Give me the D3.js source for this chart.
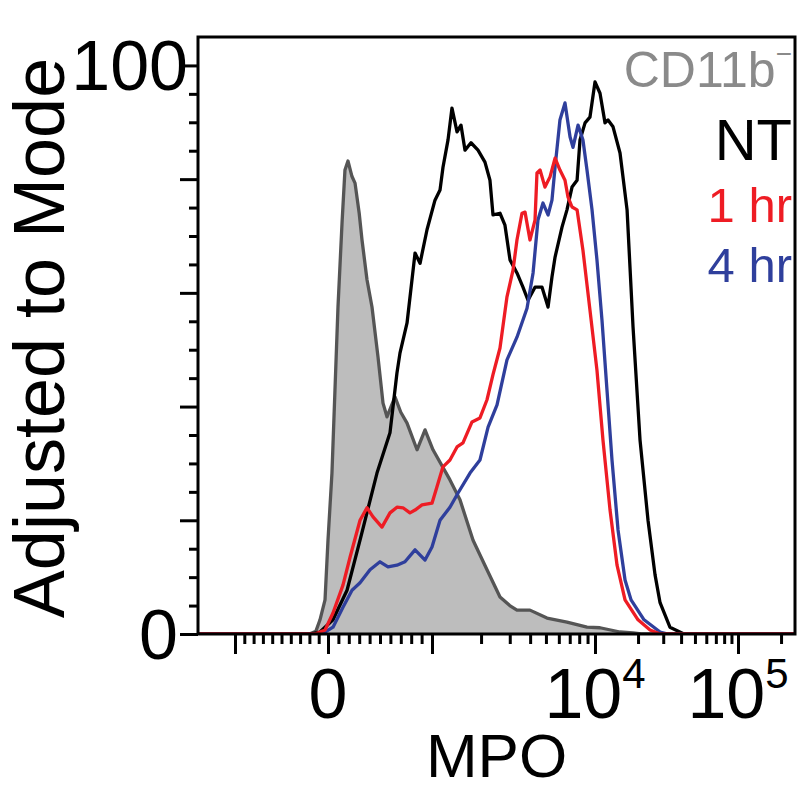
<!DOCTYPE html>
<html><head><meta charset="utf-8">
<script src="https://cdn.jsdelivr.net/npm/d3@7/dist/d3.min.js"></script>
<style>body{margin:0;background:#fff}svg{display:block}text{font-family:"Liberation Sans",Arial,sans-serif}</style>
</head><body>
<svg id="chart" width="800" height="793"></svg>
<script>
// ---------- data (MPO intensity, % of mode) ----------
const seriesNames = ["CD11b\u207B", "NT", "1 hr", "4 hr"];
const cd11bNeg = [[-1400,0],[-200,0],[-130,0.5],[-86,2.5],[-32,6.0],[0,16.5],[38,28.3],[67,42.9],[96,57.5],[135,72.3],[163,81.6],[192,83.2],[230,80.5],[260,79.3],[300,74],[327,69.3],[375,62.3],[423,57.5],[481,48.7],[529,40.6],[567,38.2],[644,41.7],[700,39],[760,37.1],[856,32.4],[933,35.9],[1014,32.4],[1289,27.1],[1485,23.6],[1786,16.5],[2175,11.3],[2613,6.5],[3000,5.0],[3321,4.2],[3990,4.2],[5076,2.8],[6730,2.1],[8930,1.2],[10840,1.1],[14960,0.35],[18500,0.2],[21000,0],[250000,0]];
const nt = [[-1400,0],[-194,0],[-86,0.35],[48,2.5],[183,7.7],[308,16.5],[471,28.3],[596,35.4],[663,45.9],[692,49.4],[760,54.7],[837,67.0],[885,65.2],[952,71.1],[1043,76.3],[1120,78.1],[1168,82.1],[1254,86.9],[1326,92.5],[1424,88.3],[1506,89.5],[1594,85.1],[1735,86.4],[1915,85.1],[2113,83.0],[2268,79.8],[2367,73.7],[2613,74.0],[2803,71.9],[3010,65.8],[3321,63.5],[3614,61.0],[3881,58.7],[4285,61.0],[4732,61.0],[5152,57.5],[5445,62.8],[5689,66.3],[6281,71.6],[6730,74.6],[7228,78.6],[7762,79.8],[8091,86.9],[8690,89.9],[9310,90.9],[10000,97.1],[10840,95.1],[11750,89.9],[12330,90.4],[13370,89.2],[14960,84.6],[16760,74.6],[18450,54.0],[20650,34.1],[23480,20.0],[26300,10.4],[28510,5.5],[33420,1.2],[41900,0],[250000,0]];
const hr1 = [[-1400,0],[-140,0],[-32,0.7],[48,3.7],[144,8.6],[212,13.5],[308,20.0],[375,22.2],[433,20.6],[519,18.8],[596,21.3],[663,22.3],[721,22.2],[788,21.3],[837,21.8],[904,22.7],[1000,23.0],[1073,25.9],[1168,29.4],[1289,30.6],[1424,32.9],[1549,33.6],[1760,37.3],[1969,38.0],[2175,41.2],[2367,45.6],[2613,50.3],[2884,59.3],[3141,64.0],[3321,69.3],[3565,74.0],[3722,74.2],[3990,69.3],[4285,72.8],[4406,81.1],[4603,81.6],[4932,78.6],[5297,80.4],[5689,83.7],[6095,81.6],[6546,79.8],[6823,76.9],[7228,75.1],[7762,74.6],[8435,67.5],[9310,57.0],[10320,46.4],[11370,34.1],[12740,21.8],[14260,12.1],[16220,6.0],[20000,2.5],[24270,0.7],[28510,0],[250000,0]];
const hr4 = [[-1400,0],[-65,0],[48,1.2],[144,4.7],[231,7.7],[308,9.0],[404,11.3],[500,12.7],[577,11.8],[663,12.1],[740,12.7],[837,14.8],[933,13.0],[1000,15.3],[1120,20.0],[1289,22.3],[1445,24.8],[1711,28.3],[1969,30.6],[2208,36.4],[2506,40.3],[2884,48.2],[3321,52.2],[3828,57.3],[4169,63.5],[4467,72.8],[4797,75.8],[5152,73.7],[5445,76.3],[5689,82.1],[6095,90.4],[6546,93.4],[7031,87.4],[7328,85.6],[7870,89.5],[8435,86.9],[8930,81.6],[9590,74.6],[10320,65.8],[11190,55.2],[12130,42.9],[13150,30.6],[14490,18.3],[16220,9.5],[17870,6.0],[22030,2.5],[28510,0.35],[32360,0],[250000,0]];

// ---------- ticks ----------
const yTicksMajor = [0, 20, 40, 60, 80, 100];
const yTicksMinor = [5, 10, 15, 25, 30, 35, 45, 50, 55, 65, 70, 75, 85, 90, 95];
const yTickLabels = ["0", "100"];
const xTicksMajor = [-1000, 0, 1000, 10000, 100000];
const xTicksMinor = [-900,-800,-700,-600,-500,-400,-300,-200,-100,100,200,300,400,500,600,700,800,900,
  2000,3000,4000,5000,6000,7000,8000,9000,20000,30000,40000,50000,60000,70000,80000,90000,200000];
const xTickLabels = [["0", "", 0], ["10", "4", 10000], ["10", "5", 100000]];
const axisTitles = ["MPO", "Adjusted to Mode"];

// ---------- layout ----------
const svg = d3.select("#chart");
const L = 198, R = 795, T = 37, B = 634;
const colors = {gray: "#bdbdbd", grayLine: "#555555", nt: "#000000", red: "#ee1c24", blue: "#2f3f9c", legendGray: "#8a8a8a"};
const font = "'Liberation Sans', Arial, sans-serif";

// biexponential-like display transform (linear around zero, log above 10^3)
const tf = v => v <= 1000 ? v / 1000 : 1 + Math.log10(v / 1000);
const xs = d3.scaleLinear().domain([-1, 0, 1, 2, 3]).range([235, 328, 432, 595, 738]);
const X = v => xs(tf(v));
const y = d3.scaleLinear().domain([0, 105]).range([B, T]);

svg.append("defs").append("clipPath").attr("id", "clip")
  .append("rect").attr("x", L).attr("y", T - 2).attr("width", R - L).attr("height", B - T + 2);

const g = svg.append("g").attr("clip-path", "url(#clip)");
const area = d3.area().x(d => X(d[0])).y0(y(0)).y1(d => y(d[1]));
const line = d3.line().x(d => X(d[0])).y(d => y(d[1]));
const SW = 3.3;

g.append("path").datum(cd11bNeg).attr("d", area).attr("fill", colors.gray).attr("stroke", "none");
g.append("path").datum(cd11bNeg).attr("d", line).attr("fill", "none").attr("stroke", colors.grayLine).attr("stroke-width", SW).attr("stroke-linejoin", "round");
g.append("path").datum(nt).attr("d", line).attr("fill", "none").attr("stroke", colors.nt).attr("stroke-width", SW).attr("stroke-linejoin", "round");
g.append("path").datum(hr4).attr("d", line).attr("fill", "none").attr("stroke", colors.blue).attr("stroke-width", SW).attr("stroke-linejoin", "round");
g.append("path").datum(hr1).attr("d", line).attr("fill", "none").attr("stroke", colors.red).attr("stroke-width", SW).attr("stroke-linejoin", "round");

// frame
svg.append("rect").attr("x", L).attr("y", T).attr("width", R - L).attr("height", B - T)
  .attr("fill", "none").attr("stroke", "#000").attr("stroke-width", 3);

// y axis ticks
function styleAxis(sel) {
  sel.select(".domain").remove();
  sel.selectAll(".tick line").attr("stroke", "#000").attr("stroke-width", 3);
}
svg.append("g").attr("transform", `translate(${L},0)`)
  .call(d3.axisLeft(y).tickValues(yTicksMajor).tickSize(18).tickFormat(""))
  .call(styleAxis);
svg.append("g").attr("transform", `translate(${L},0)`)
  .call(d3.axisLeft(y).tickValues(yTicksMinor).tickSize(9).tickFormat(""))
  .call(styleAxis);
svg.selectAll(null).data(yTickLabels).enter().append("text")
  .attr("x", d => d === "0" ? 178 : 188)
  .attr("y", d => y(+d) + 25)
  .attr("text-anchor", "end").attr("font-size", 70).attr("fill", "#000")
  .style("font-family", font).text(d => d);

// x axis ticks
svg.append("g").attr("transform", `translate(0,${B})`)
  .call(d3.axisBottom(xs).tickValues(xTicksMajor.map(tf)).tickSize(20).tickFormat(""))
  .call(styleAxis);
svg.append("g").attr("transform", `translate(0,${B})`)
  .call(d3.axisBottom(xs).tickValues(xTicksMinor.map(tf)).tickSize(10).tickFormat(""))
  .call(styleAxis);
const xl = svg.selectAll(null).data(xTickLabels).enter().append("text")
  .attr("x", d => X(d[2])).attr("y", 718)
  .attr("text-anchor", "middle").attr("font-size", 70).attr("fill", "#000")
  .style("font-family", font);
xl.append("tspan").text(d => d[0]);
xl.filter(d => d[1]).append("tspan").attr("dy", -30).attr("font-size", 42).text(d => d[1]);

// axis titles
svg.append("text").attr("x", (L + R) / 2).attr("y", 777).attr("text-anchor", "middle")
  .attr("font-size", 62).style("font-family", font).text(axisTitles[0]);
svg.append("text").attr("transform", `translate(64,338) rotate(-90)`).attr("text-anchor", "middle")
  .attr("font-size", 72).style("font-family", font).text(axisTitles[1]);

// legend
const leg = [
  {t: "CD11b", sup: "\u2212", c: colors.legendGray, y: 87, fs: 50},
  {t: seriesNames[1], c: colors.nt, y: 160, fs: 58},
  {t: seriesNames[2], c: colors.red, y: 222, fs: 49},
  {t: seriesNames[3], c: colors.blue, y: 282, fs: 49}
];
leg.forEach(d => {
  const t = svg.append("text").attr("x", 792).attr("y", d.y).attr("text-anchor", "end")
    .attr("font-size", d.fs).attr("fill", d.c).style("font-family", font);
  t.append("tspan").text(d.t);
  if (d.sup) t.append("tspan").attr("dy", -24).attr("font-size", 28).text(d.sup);
});
</script>
</body></html>
